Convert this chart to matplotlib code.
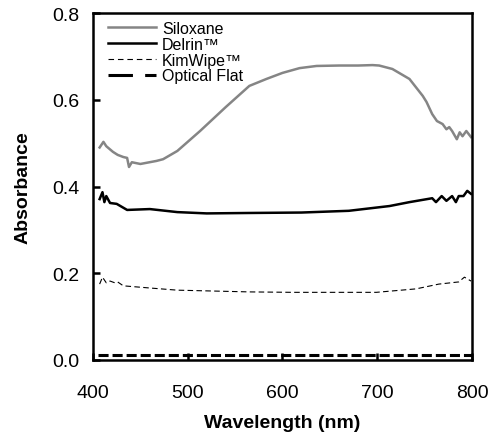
import matplotlib
matplotlib.use("Agg")
import matplotlib.pyplot as plt
from matplotlib.lines import Line2D

plt.rcParams['font.family'] = ['Liberation Sans', 'DejaVu Sans']

# ---- data ----
siloxane_wl = [407, 411, 414, 421, 426, 432, 436, 438, 441, 450, 467, 474, 489, 513, 540,
               565, 583, 600, 618, 636, 660, 680, 695, 702, 716, 734, 748, 752, 758, 763,
               769, 773, 776, 779, 784, 787, 790, 794, 799]
siloxane_abs = [0.490, 0.503, 0.493, 0.480, 0.473, 0.468, 0.466, 0.445, 0.456, 0.452, 0.459,
                0.463, 0.482, 0.528, 0.583, 0.632, 0.648, 0.662, 0.673, 0.678, 0.679, 0.679,
                0.680, 0.679, 0.671, 0.648, 0.609, 0.595, 0.567, 0.551, 0.544, 0.532, 0.537,
                0.528, 0.509, 0.525, 0.516, 0.528, 0.514]

delrin_wl = [407, 410, 412, 414, 418, 425, 436, 460, 489, 520, 565, 620, 670, 713, 734,
             758, 762, 768, 773, 779, 783, 786, 791, 795, 799]
delrin_abs = [0.371, 0.387, 0.364, 0.378, 0.362, 0.360, 0.346, 0.348, 0.341, 0.338, 0.339,
              0.340, 0.344, 0.355, 0.364, 0.373, 0.364, 0.378, 0.367, 0.378, 0.364, 0.378,
              0.378, 0.390, 0.383]

kimwipe_wl = [407, 410, 414, 418, 423, 426, 432, 460, 489, 565, 611, 699, 741, 765, 786,
              792, 799]
kimwipe_abs = [0.175, 0.191, 0.178, 0.182, 0.178, 0.180, 0.171, 0.166, 0.161, 0.157, 0.156,
               0.156, 0.164, 0.175, 0.180, 0.191, 0.182]

optical_wl = [405, 800]
optical_abs = [0.012, 0.012]

x_ticks = [400, 500, 600, 700, 800]
y_ticks = [0.0, 0.2, 0.4, 0.6, 0.8]
labels = ['Siloxane', 'Delrin\u2122', 'KimWipe\u2122', 'Optical Flat']

fig = plt.figure(figsize=(4.96, 4.39), dpi=100)
ax = fig.add_axes([0.1875, 0.1777, 0.7641, 0.7903])

ax.plot(siloxane_wl, siloxane_abs, color='#858585', lw=1.8)
ax.plot(delrin_wl, delrin_abs, color='black', lw=1.8)
ax.plot(kimwipe_wl, kimwipe_abs, color='black', lw=0.8, linestyle=(0, (5, 3)))
ax.plot(optical_wl, optical_abs, color='black', lw=2.2, linestyle=(0, (3.3, 1.3)))

ax.set_xlim(400, 800)
ax.set_ylim(0, 0.8)
ax.set_xticks(x_ticks)
ax.set_yticks(y_ticks)
ax.set_yticklabels([f'{v:.1f}' for v in y_ticks])
ax.tick_params(direction='in', length=5, width=1.8, labelsize=14)
ax.tick_params(axis='x', pad=17)
ax.tick_params(axis='y', pad=10)
for s in ax.spines.values():
    s.set_linewidth(1.8)

ax.set_xlabel('Wavelength (nm)', fontsize=14, fontweight='bold', labelpad=10)
ax.set_ylabel('Absorbance', fontsize=14, fontweight='bold', labelpad=15)

handles = [
    Line2D([], [], color='#858585', lw=1.8),
    Line2D([], [], color='black', lw=1.8),
    Line2D([], [], color='black', lw=0.8, linestyle=(0, (5, 3.5))),
    Line2D([], [], color='black', lw=2.2, linestyle=(0, (8, 4))),
]
ax.legend(handles, labels, loc='upper left', frameon=False, fontsize=11.5,
          handlelength=3.0, handletextpad=0.38, labelspacing=0.05,
          bbox_to_anchor=(0.0396, 0.977), borderaxespad=0.0, borderpad=0.0)

fig.savefig('out.png', dpi=100)
